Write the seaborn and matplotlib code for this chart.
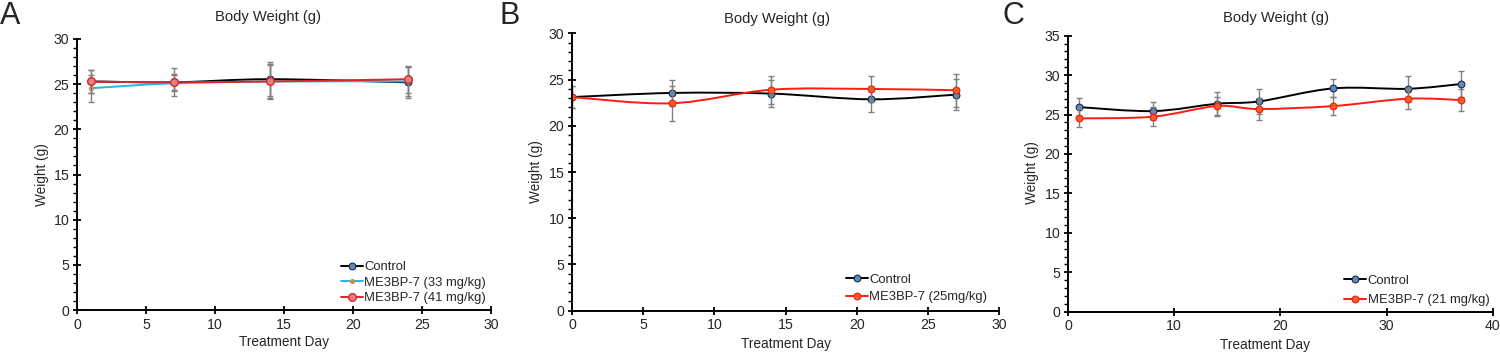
import numpy as np
import pandas as pd
import matplotlib
matplotlib.use("Agg")
import matplotlib.pyplot as plt
import seaborn as sns
from matplotlib.path import Path
from matplotlib.patches import PathPatch
from matplotlib.lines import Line2D
from matplotlib.ticker import MultipleLocator

sns.set_style("ticks")
plt.rcParams['font.family'] = ['Liberation Sans', 'DejaVu Sans']

# ---------------- data ----------------
title_text = "Body Weight (g)"
xlabel_text = "Treatment Day"
ylabel_text = "Weight (g)"
panel_letters = ["A", "B", "C"]

a_days = [1, 7, 14, 24]
a_control = [25.3, 25.2, 25.55, 25.2]
a_control_sd = [1.3, 1.55, 1.9, 1.7]
a_33 = [24.55, 25.1, 25.3, 25.3]
a_33_sd = [1.5, 0.9, 1.9, 1.6]
a_41 = [25.3, 25.2, 25.3, 25.55]
a_41_sd = [1.25, 0.9, 1.8, 1.5]
a_labels = ["Control", "ME3BP-7 (33 mg/kg)", "ME3BP-7 (41 mg/kg)"]

b_days = [0, 7, 14, 21, 27]
b_control = [23.1, 23.55, 23.48, 22.86, 23.37]
b_control_sd = [1.2, 1.4, 1.5, 1.4, 1.7]
b_25 = [23.1, 22.43, 23.9, 23.98, 23.84]
b_25_sd = [1.2, 1.9, 1.5, 1.45, 1.8]
b_labels = ["Control", "ME3BP-7 (25mg/kg)"]

c_days = [1, 8, 14, 18, 25, 32, 37]
c_control = [25.95, 25.44, 26.37, 26.67, 28.32, 28.27, 28.87]
c_control_sd = [1.15, 1.15, 1.5, 1.55, 1.15, 1.65, 1.65]
c_21 = [24.51, 24.73, 26.08, 25.7, 26.08, 27.01, 26.84]
c_21_sd = [1.15, 1.2, 1.15, 1.4, 1.15, 1.3, 1.35]
c_labels = ["Control", "ME3BP-7 (21 mg/kg)"]

# ---------------- styles ----------------
STY_CTRL = dict(line="#000000", fill="#5B8AC0", edge="#1F2D3D", s=24, ew=0.8)
STY_CYAN = dict(line="#2AB4E4", fill="#D08A4A", edge="#D08A4A", s=14, ew=0.0)
STY_PINK = dict(line="#D8262E", fill="#E88080", edge="#D8262E", s=30, ew=1.0)
STY_RED = dict(line="#FF1A10", fill="#FF5A22", edge="#E8201A", s=24, ew=0.8)
ERR_COLOR = "#808080"


def smooth_path(x, y):
    P = np.column_stack([np.asarray(x, float), np.asarray(y, float)])
    n = len(P)
    verts = [P[0]]
    codes = [Path.MOVETO]
    for i in range(n - 1):
        p0 = P[i - 1] if i > 0 else P[i]
        p1 = P[i]
        p2 = P[i + 1]
        p3 = P[i + 2] if i + 2 < n else P[i + 1]
        c1 = p1 + (p2 - p0) / 6.0
        c2 = p2 - (p3 - p1) / 6.0
        verts += [c1, c2, p2]
        codes += [Path.CURVE4] * 3
    return Path(verts, codes)


def draw_series(ax, days, vals, sds, sty, z):
    ax.errorbar(days, vals, yerr=sds, fmt="none", ecolor=ERR_COLOR,
                elinewidth=1.0, capsize=2.5, capthick=1.0, zorder=z)
    ax.add_patch(PathPatch(smooth_path(days, vals), fill=False,
                           edgecolor=sty["line"], lw=1.4, zorder=z + 0.5))
    df = pd.DataFrame({"day": days, "w": vals})
    sns.scatterplot(data=df, x="day", y="w", ax=ax, color=sty["fill"],
                    edgecolor=sty["edge"], linewidth=sty["ew"], s=sty["s"],
                    zorder=z + 0.8, legend=False)


def handle(sty):
    ms = np.sqrt(sty["s"])
    return Line2D([], [], color=sty["line"], lw=1.4, marker="o", markersize=ms,
                  markerfacecolor=sty["fill"], markeredgecolor=sty["edge"],
                  markeredgewidth=sty["ew"])


def style_axes(ax, xmax, xstep, ymax):
    ax.set_xlim(0, xmax)
    ax.set_ylim(0, ymax)
    ax.xaxis.set_major_locator(MultipleLocator(xstep))
    ax.yaxis.set_major_locator(MultipleLocator(5))
    ax.yaxis.set_minor_locator(MultipleLocator(1))
    for side in ["top", "right"]:
        ax.spines[side].set_visible(False)
    for side in ["left", "bottom"]:
        ax.spines[side].set_linewidth(1.4)
        ax.spines[side].set_color("black")
        ax.spines[side].set_zorder(10)
    ax.tick_params(axis="both", which="major", direction="inout", length=6,
                   width=1.3, color="black", labelsize=10.2, pad=2.5)
    ax.tick_params(axis="y", which="minor", direction="out", length=3,
                   width=1.0, color="black")
    ax.set_facecolor("white")


fig = plt.figure(figsize=(15, 3.52), dpi=100)
W, H = 1500.0, 352.0


def add_axes(l, r, t, b):
    return fig.add_axes([l / W, 1 - b / H, (r - l) / W, (b - t) / H])


axA = add_axes(77, 491, 39, 310)
axB = add_axes(572, 999, 33.3, 310.7)
axC = add_axes(1068, 1492.7, 35.7, 311.7)

draw_series(axA, a_days, a_control, a_control_sd, STY_CTRL, 3)
draw_series(axA, a_days, a_33, a_33_sd, STY_CYAN, 4)
draw_series(axA, a_days, a_41, a_41_sd, STY_PINK, 5)

draw_series(axB, b_days, b_control, b_control_sd, STY_CTRL, 3)
draw_series(axB, b_days, b_25, b_25_sd, STY_RED, 4)

draw_series(axC, c_days, c_control, c_control_sd, STY_CTRL, 3)
draw_series(axC, c_days, c_21, c_21_sd, STY_RED, 4)

style_axes(axA, 30, 5, 30)
style_axes(axB, 30, 5, 30)
style_axes(axC, 40, 10, 35)
for ax in (axA, axB, axC):
    ax.set_xlabel("")
    ax.set_ylabel("")

# titles, labels, letters (pixel positions)
def ftext(x, y, s, **kw):
    fig.text(x / W, 1 - y / H, s, **kw)

for (tx, ty) in [(268, 17), (777, 19), (1276, 18)]:
    ftext(tx, ty, title_text, ha="center", va="center", fontsize=10.6)
for (lx, ly) in [(42, 175), (536, 172), (1032, 173)]:
    ftext(lx, ly, ylabel_text, ha="center", va="center", rotation=90, fontsize=9.8)
for (xx, xy) in [(284, 342), (786, 344), (1265, 345)]:
    ftext(xx, xy, xlabel_text, ha="center", va="center", fontsize=9.8)
for (px, py), letter in zip([(0, 1), (499, 1), (1002, 1)], panel_letters):
    ftext(px, py, letter, ha="left", va="top", fontsize=22)

# legends
def add_legend(handles, labels, x, y, spacing):
    fig.legend(handles, labels, loc="upper left",
               bbox_to_anchor=(x / W, 1 - y / H), frameon=False,
               fontsize=9.4, handlelength=1.65, handletextpad=0.15,
               labelspacing=spacing, borderpad=0, borderaxespad=0)

add_legend([handle(STY_CTRL), handle(STY_CYAN), handle(STY_PINK)], a_labels,
           341, 261, 0.26)
add_legend([handle(STY_CTRL), handle(STY_RED)], b_labels, 846, 273.5, 0.42)
add_legend([handle(STY_CTRL), handle(STY_RED)], c_labels, 1344, 274.5, 0.58)

fig.savefig("out.png", dpi=100, facecolor="white")
